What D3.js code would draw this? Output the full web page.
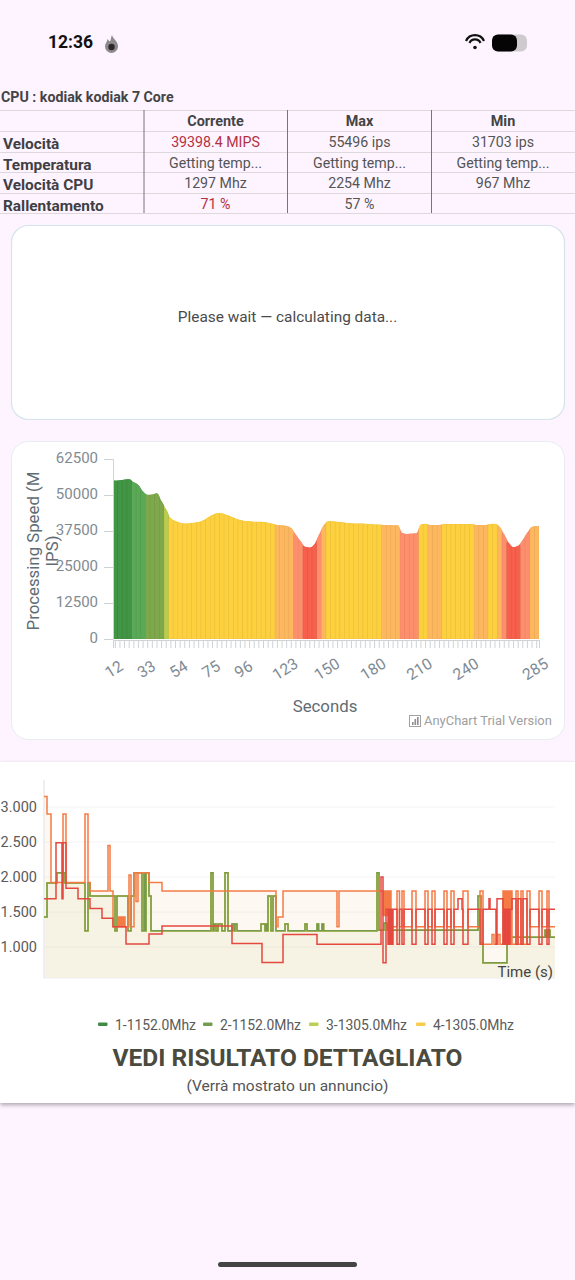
<!DOCTYPE html>
<html>
<head>
<meta charset="utf-8">
<script src="https://cdnjs.cloudflare.com/ajax/libs/d3/7.8.5/d3.min.js"></script>
<style>
  html, body { margin: 0; padding: 0; background: #fdf4ff; }
  svg { display: block; font-family: Roboto, sans-serif; }
</style>
</head>
<body>
<svg id="page" width="575" height="1280"></svg>
<script>
// table
const tableColumns = ["Corrente", "Max", "Min"];
const tableLabels = ["Velocità", "Temperatura", "Velocità CPU", "Rallentamento"];
const tableRows = [
  ["39398.4 MIPS", "55496 ips", "31703 ips"],
  ["Getting temp...", "Getting temp...", "Getting temp..."],
  ["1297 Mhz", "2254 Mhz", "967 Mhz"],
  ["71 %", "57 %", ""]
];
const tableAlerts = ["39398.4 MIPS", "71 %"];

// processing speed, one bar every 3 seconds
const seconds = d3.range(12, 288, 3);
const speeds = [
  55000, 55100, 55400, 55500, 54400, 53500, 51200, 50100, 50200, 50600,
  47800, 45000, 41900, 41000, 40400, 40100, 40200, 40400, 40600, 41200,
  42200, 43100, 43700, 43700, 43100, 42500, 41800, 41300, 41000, 40900,
  40700, 40700, 40600, 40400, 40000, 39600, 39500, 39200, 38500, 36200,
  34000, 32000, 31800, 32900, 36300, 39500, 40900, 40900, 40700, 40500,
  40300, 40200, 40100, 40100, 40000, 39900, 39800, 39750, 39600, 39600,
  39500, 39500, 36800, 36500, 36600, 36700, 39800, 40000, 39600, 39600,
  39600, 39900, 39900, 39900, 39900, 39900, 39900, 39900, 39600, 39600,
  39600, 39900, 40000, 39000, 36300, 33300, 31900, 32400, 34500, 37000,
  39000, 39200
];
const speedLabels = [12, 33, 54, 75, 96, 123, 150, 180, 210, 240, 285];
const speedTicks = [0, 12500, 25000, 37500, 50000, 62500];
const speedSteps = [33500, 38000, 39700, 44500, 47000, 51000, 54700];
const speedColors = ["#f6604c", "#fd8f6d", "#fdb85f", "#fdd03f", "#b9cc4f", "#7ea84b", "#5aa956", "#419545"];

// core frequency, [time, mhz] at every step change
const bigCore = [
  [0,1430],[1.5,1915],[6.5,2060],[10.5,1915],[20.5,1232],[22,1915],[23,1730],[35.5,1232],[36.5,1730],
  [42,1232],[43.5,1730],[45,2060],[49,1232],[50,2060],[50.5,1232],[51,2060],[52.5,1730],[53.5,1232],
  [83.5,2060],[84.5,1232],[85,1330],[86,1232],[87,1330],[89,1232],[90.5,2060],[92,1232],[94,1330],
  [95,1232],[95.5,1330],[96.5,1232],[108.5,1330],[110.5,1232],[111,1330],[111.5,1232],[112,1730],
  [113.5,1232],[114.5,1730],[116,1232],[120.5,1330],[122,1232],[130.5,1330],[131.5,1232],[136.5,1330],
  [137.25,1232],[139,1330],[139.75,1232],[166.5,2060],[167.5,1240],[170,1340],[171.5,1240],[217,1730],
  [218.5,1060],[219.5,775],[231.5,1138],[250.5,1240],[251,1138],[251.5,1240],[252,1138],[252.5,1240],
  [253,1138]
];
const midCore = [
  [0,3150],[1.5,2900],[3.5,1920],[9.5,2900],[11,1920],[20.5,2900],[22,1920],[23,1800],[32,2450],[33,1800],
  [34.5,1290],[37,1430],[37.5,1290],[38,1430],[38.5,1290],[39,1430],[39.5,1290],[40,1430],[40.5,1290],
  [42.5,2030],[43.5,1290],[45,2060],[46,1650],[47,2060],[52.5,1920],[59,1800],[116,1290],[117,1430],
  [119.5,1800],[146.5,1290],[147.5,1800],[169.5,1450],[170,1800],[170.5,1450],[171,1800],[171.5,1450],
  [172,1800],[172.5,1450],[173,1800],[173.5,1450],[174,1290],[176.5,1800],[177.75,1290],[179,1800],
  [180,1290],[184,1800],[186,1290],[190.5,1800],[192,1290],[194,1800],[195.5,1290],[200,1800],[201.5,1290],
  [203.5,1800],[205,1290],[209.5,1800],[212,1290],[218,1800],[219.5,1040],[224,1180],[225,1040],[227,1180],
  [228,1040],[229.5,1800],[230,1040],[230.5,1800],[231,1040],[231.5,1800],[232,1040],[232.5,1800],
  [233,1040],[233.5,1800],[234,1040],[236,1800],[237,1040],[238.5,1800],[239.5,1040],[241.5,1800],
  [243,1290],[247.5,1800],[249,1290],[251.5,1800],[252.5,1290]
];
const primeCore = [
  [0,1690],[6,2490],[9,1690],[9.5,2490],[11,1840],[17,1690],[23,1550],[29,1410],[34.5,1290],[41,1043],
  [52.5,1186],[59,1300],[94,1050],[109,780],[119.5,1180],[136.5,1040],[168.5,2000],[169.5,775],[171,1540],
  [172,1040],[172.5,1540],[173,1040],[173.5,1540],[174,1040],[174.5,1540],[176.5,1040],[177.75,1540],
  [179,1040],[180,1540],[184,1040],[186,1540],[190.5,1040],[192,1540],[194,1040],[195.5,1540],[200,1040],
  [201.5,1540],[203.5,1040],[205,1540],[207,1690],[209,1540],[209.5,1040],[212,1540],[218,1040],[219.5,1540],
  [222.5,1690],[223,1540],[226,1040],[226.5,1690],[229.5,1040],[230,1540],[230.5,1040],[231,1540],[231.5,1040],
  [232,1540],[232.5,1040],[233,1540],[234,1690],[236,1040],[237,1690],[238.5,1040],[239.5,1690],[241.5,1040],
  [243,1540],[247.5,1040],[249,1540],[251.5,1040],[252.5,1540]
];
const timeEnd = 255.5;
const mhzTicks = [1000, 1500, 2000, 2500, 3000];
const legendNames = ["1-1152.0Mhz", "2-1152.0Mhz", "3-1305.0Mhz", "4-1305.0Mhz"];
const legendColors = ["#3f8a45", "#749c4e", "#b9d055", "#f7cb4c"];

const svg = d3.select("#page");

// status bar
svg.append("text").attr("x", 48).attr("y", 48).attr("font-size", 17.5).attr("font-weight", 700)
  .attr("fill", "#111").text("12:36");
svg.append("path").attr("d", "M112 35c1 4 6 6 6 11.5a6.5 6.5 0 0 1-13 0c0-3.500 2.500-5 2.500-7.500 1 1 1.500 2 2.500 2.500 1-2 1-4.500 2-6.500z").attr("fill", "#8f898d");
svg.append("circle").attr("cx", 111.5).attr("cy", 47).attr("r", 3.2).attr("fill", "#2a2a2a");
[[9, 6], [5.5, 4]].forEach(a => {
  svg.append("path").attr("d", `M${475 - a[0]} ${47 - a[1]}a${a[0] * 1.1} ${a[0] * 1.1} 0 0 1 ${a[0] * 2} 0`)
    .attr("fill", "none").attr("stroke", "#111").attr("stroke-width", 2.2);
});
svg.append("circle").attr("cx", 475).attr("cy", 47.5).attr("r", 1.8).attr("fill", "#111");
svg.append("rect").attr("x", 492).attr("y", 34.5).attr("width", 35).attr("height", 17).attr("rx", 6).attr("fill", "#cfcacd");
svg.append("rect").attr("x", 492).attr("y", 34.5).attr("width", 25).attr("height", 17).attr("rx", 6).attr("fill", "#050505");

// table
svg.append("text").attr("x", 1).attr("y", 102).attr("font-size", 14.2).attr("font-weight", 700)
  .attr("fill", "#444").text("CPU : kodiak kodiak 7 Core");

const rowY = [110, 131, 152, 172, 193, 213];
const columnX = [215.5, 359.5, 503];

svg.selectAll("line.row").data(rowY).enter().append("line").attr("class", "row")
  .attr("x1", 0).attr("x2", 575).attr("y1", d => d + 0.5).attr("y2", d => d + 0.5)
  .attr("stroke", "#dcd8dc");
svg.selectAll("line.col").data([144, 287.5, 431.5]).enter().append("line").attr("class", "col")
  .attr("x1", d => d).attr("x2", d => d).attr("y1", 110).attr("y2", 213)
  .attr("stroke", "#77757a");

svg.selectAll("text.head").data(tableColumns).enter().append("text").attr("class", "head")
  .attr("x", (d, i) => columnX[i]).attr("y", 126).attr("text-anchor", "middle")
  .attr("font-size", 14.4).attr("font-weight", 700).attr("fill", "#444").text(d => d);

tableLabels.forEach((label, r) => {
  svg.append("text").attr("x", 3).attr("y", rowY[r + 1] + 18).attr("font-size", 15.4)
    .attr("font-weight", 700).attr("fill", "#3f3f44").text(label);
  tableRows[r].forEach((cell, c) => {
    svg.append("text").attr("x", columnX[c]).attr("y", rowY[r + 1] + 16).attr("text-anchor", "middle")
      .attr("font-size", 14.2).attr("fill", tableAlerts.includes(cell) ? "#b5303f" : "#555").text(cell);
  });
});

// cards
svg.append("rect").attr("x", 11.5).attr("y", 225.5).attr("width", 553).attr("height", 194).attr("rx", 17)
  .attr("fill", "#fff").attr("stroke", "#d3e4ea").attr("stroke-width", 1.2);
svg.append("text").attr("x", 287.5).attr("y", 322).attr("text-anchor", "middle").attr("font-size", 15.4)
  .attr("fill", "#4a4a4a").text("Please wait — calculating data...");
svg.append("rect").attr("x", 11.5).attr("y", 441.5).attr("width", 553).attr("height", 298).attr("rx", 17)
  .attr("fill", "#fff").attr("stroke", "#e8ebef").attr("stroke-width", 1);

// speed chart
const speedX = d3.scaleBand().domain(seconds).range([113, 539]);
const speedY = d3.scaleLinear().domain([0, 62500]).range([639, 459]);
const speedColor = d3.scaleThreshold().domain(speedSteps).range(speedColors);
const barMid = d => speedX(d) + speedX.bandwidth() / 2;
const lastBar = seconds.length - 1;

// the reference has a smooth top edge, so the bars get clipped by a curve through the same values
const speedPoints = seconds.map((s, i) => [barMid(s), speedY(speeds[i])]);
const speedOutline = [[speedX.range()[0], speedY(speeds[0])]]
  .concat(speedPoints, [[speedX.range()[1], speedY(speeds[lastBar])]]);
const speedTop = d3.area().curve(d3.curveMonotoneX)
  .x(d => d[0]).y0(speedY(0)).y1(d => d[1]);
const defs = svg.append("defs");
const capGradient = defs.append("linearGradient").attr("id", "barCaps")
  .attr("gradientUnits", "userSpaceOnUse").attr("x1", 113).attr("x2", 539).attr("y1", 0).attr("y2", 0);
seconds.forEach((s, i) => {
  const from = (speedX(s) - 113) / 426;
  const to = (speedX(s) + speedX.bandwidth() - 113) / 426;
  capGradient.append("stop").attr("offset", from).attr("stop-color", speedColor(speeds[i]));
  capGradient.append("stop").attr("offset", to).attr("stop-color", speedColor(speeds[i]));
});
defs.append("clipPath").attr("id", "barClip").append("path").attr("d", speedTop(speedOutline));

svg.append("path").attr("d", speedTop(speedOutline)).attr("fill", "url(#barCaps)");
svg.append("g").attr("clip-path", "url(#barClip)")
  .selectAll("rect.bar").data(seconds).enter().append("rect").attr("class", "bar")
  .attr("x", d => speedX(d))
  .attr("width", speedX.bandwidth())
  .attr("y", (d, i) => speedY(speeds[i]))
  .attr("height", (d, i) => speedY(0) - speedY(speeds[i]))
  .attr("fill", (d, i) => speedColor(speeds[i]))
  .attr("stroke", "#000").attr("stroke-opacity", 0.05).attr("stroke-width", 0.7);

const yAxis = svg.append("g").attr("transform", "translate(113,0)")
  .call(d3.axisLeft(speedY).tickValues(speedTicks).tickSize(9).tickPadding(6).tickFormat(d3.format("d")));
yAxis.select(".domain").attr("stroke", "#cfd3d6");
yAxis.selectAll(".tick line").attr("stroke", "#cfd3d6");
yAxis.selectAll("text").attr("font-size", 15).attr("font-family", "Roboto").attr("fill", "#7f8b93")
  .attr("dy", "0.25em");

const xTicks = svg.append("g").attr("transform", "translate(0,640)")
  .call(d3.axisBottom(speedX).tickSize(8).tickFormat(""));
xTicks.select(".domain").attr("stroke", "#cfd3d6");
xTicks.selectAll(".tick line").attr("stroke", "#cfd3d6");

const xLabels = svg.append("g").attr("transform", "translate(0,639)")
  .call(d3.axisBottom(speedX).tickValues(speedLabels).tickSize(0));
xLabels.select(".domain").remove();
xLabels.selectAll("text")
  .attr("y", 0).attr("dy", "0.35em").attr("text-anchor", "middle")
  .attr("transform", "translate(-1.5,30) rotate(-32)")
  .attr("font-size", 15.8).attr("font-family", "Roboto").attr("fill", "#7f8b93");

["Processing Speed (M", "IPS)"].forEach((line, i) => {
  svg.append("text").attr("transform", `translate(${39 + i * 19},551) rotate(-90)`)
    .attr("text-anchor", "middle").attr("font-size", 16.8).attr("fill", "#5f6c74").text(line);
});
svg.append("text").attr("x", 325).attr("y", 712).attr("text-anchor", "middle").attr("font-size", 16.8)
  .attr("fill", "#5f6c74").text("Seconds");

// trial mark
svg.append("rect").attr("x", 409.5).attr("y", 715.5).attr("width", 11).attr("height", 11)
  .attr("fill", "none").attr("stroke", "#a3a3a3");
[[412, 3], [414.5, 6], [417, 8]].forEach(b => {
  svg.append("rect").attr("x", b[0]).attr("y", 725 - b[1]).attr("width", 1.6).attr("height", b[1]).attr("fill", "#8d8d8d");
});
svg.append("text").attr("x", 424).attr("y", 724.5).attr("font-size", 12.95).attr("fill", "#a0a0a0")
  .text("AnyChart Trial Version");

// bottom panel
svg.append("rect").attr("x", 0).attr("y", 762).attr("width", 575).attr("height", 341)
  .attr("fill", "#fff").style("filter", "drop-shadow(0 2px 2px rgba(0,0,0,.32))");

const timeX = d3.scaleLinear().domain([0, timeEnd]).range([44, 555]);
const mhzY = d3.scaleLinear().domain([1000, 3000]).range([947, 807]);
const plotBottom = 978;
const plotTop = 780;

svg.selectAll("line.grid").data(mhzTicks).enter().append("line").attr("class", "grid")
  .attr("x1", 44).attr("x2", 555).attr("y1", d => mhzY(d)).attr("y2", d => mhzY(d))
  .attr("stroke", "#f4f4f4");

const toEnd = points => points.concat([[timeEnd, points[points.length - 1][1]]]);
const stepLine = d3.line().curve(d3.curveStepAfter).x(d => timeX(d[0])).y(d => mhzY(d[1]));
const stepArea = d3.area().curve(d3.curveStepAfter).x(d => timeX(d[0])).y0(plotBottom).y1(d => mhzY(d[1]));

svg.append("path").attr("d", stepArea(toEnd(midCore))).attr("fill", "#f5a05a").attr("fill-opacity", 0.07);
svg.append("path").attr("d", stepArea(toEnd(bigCore))).attr("fill", "#d0dc9c").attr("fill-opacity", 0.16);

const mhzFormat = d3.formatLocale({ decimal: ",", thousands: ".", grouping: [3], currency: ["", "€"] }).format(",d");
const mhzAxis = svg.append("g").attr("transform", "translate(44,0)")
  .call(d3.axisLeft(mhzY).tickValues(mhzTicks).tickSize(0).tickPadding(7).tickFormat(mhzFormat));
mhzAxis.select(".domain").remove();
mhzAxis.selectAll("text").attr("font-size", 14.5).attr("font-family", "Roboto").attr("fill", "#5a5a5a");

svg.append("line").attr("x1", 44).attr("x2", 44).attr("y1", plotTop).attr("y2", plotBottom)
  .attr("stroke", "#efefef").attr("stroke-width", 2);
svg.append("line").attr("x1", 44).attr("x2", 555).attr("y1", plotBottom).attr("y2", plotBottom)
  .attr("stroke", "#eeeeee");

const coreLines = [
  [bigCore, legendColors[0]],
  [bigCore, legendColors[2]],
  [bigCore, legendColors[3]],
  [bigCore, legendColors[1]],
  [midCore, "#f47b45"],
  [primeCore, "#e5483f"]
];
coreLines.forEach(c => {
  svg.append("path").attr("d", stepLine(toEnd(c[0]))).attr("fill", "none")
    .attr("stroke", c[1]).attr("stroke-width", 1.5);
});

svg.append("text").attr("x", 553).attr("y", 977).attr("text-anchor", "end").attr("font-size", 15)
  .attr("fill", "#444").text("Time (s)");

// legend
const legendX = [98, 203, 309, 416];
legendNames.forEach((name, i) => {
  svg.append("rect").attr("x", legendX[i]).attr("y", 1022.5).attr("width", 9.5).attr("height", 3.5)
    .attr("rx", 1).attr("fill", legendColors[i]);
  svg.append("text").attr("x", legendX[i] + 17).attr("y", 1029.5).attr("font-size", 13.9)
    .attr("fill", "#5a5a5a").text(name);
});

svg.append("text").attr("x", 287.5).attr("y", 1066).attr("text-anchor", "middle").attr("font-size", 24.5)
  .attr("font-weight", 700).attr("fill", "#4a4a3f").text("VEDI RISULTATO DETTAGLIATO");
svg.append("text").attr("x", 287.5).attr("y", 1091).attr("text-anchor", "middle").attr("font-size", 15.5)
  .attr("fill", "#555").text("(Verrà mostrato un annuncio)");

// home bar
svg.append("rect").attr("x", 218).attr("y", 1262).attr("width", 139).attr("height", 5).attr("rx", 2.5)
  .attr("fill", "#444");
</script>
</body>
</html>
